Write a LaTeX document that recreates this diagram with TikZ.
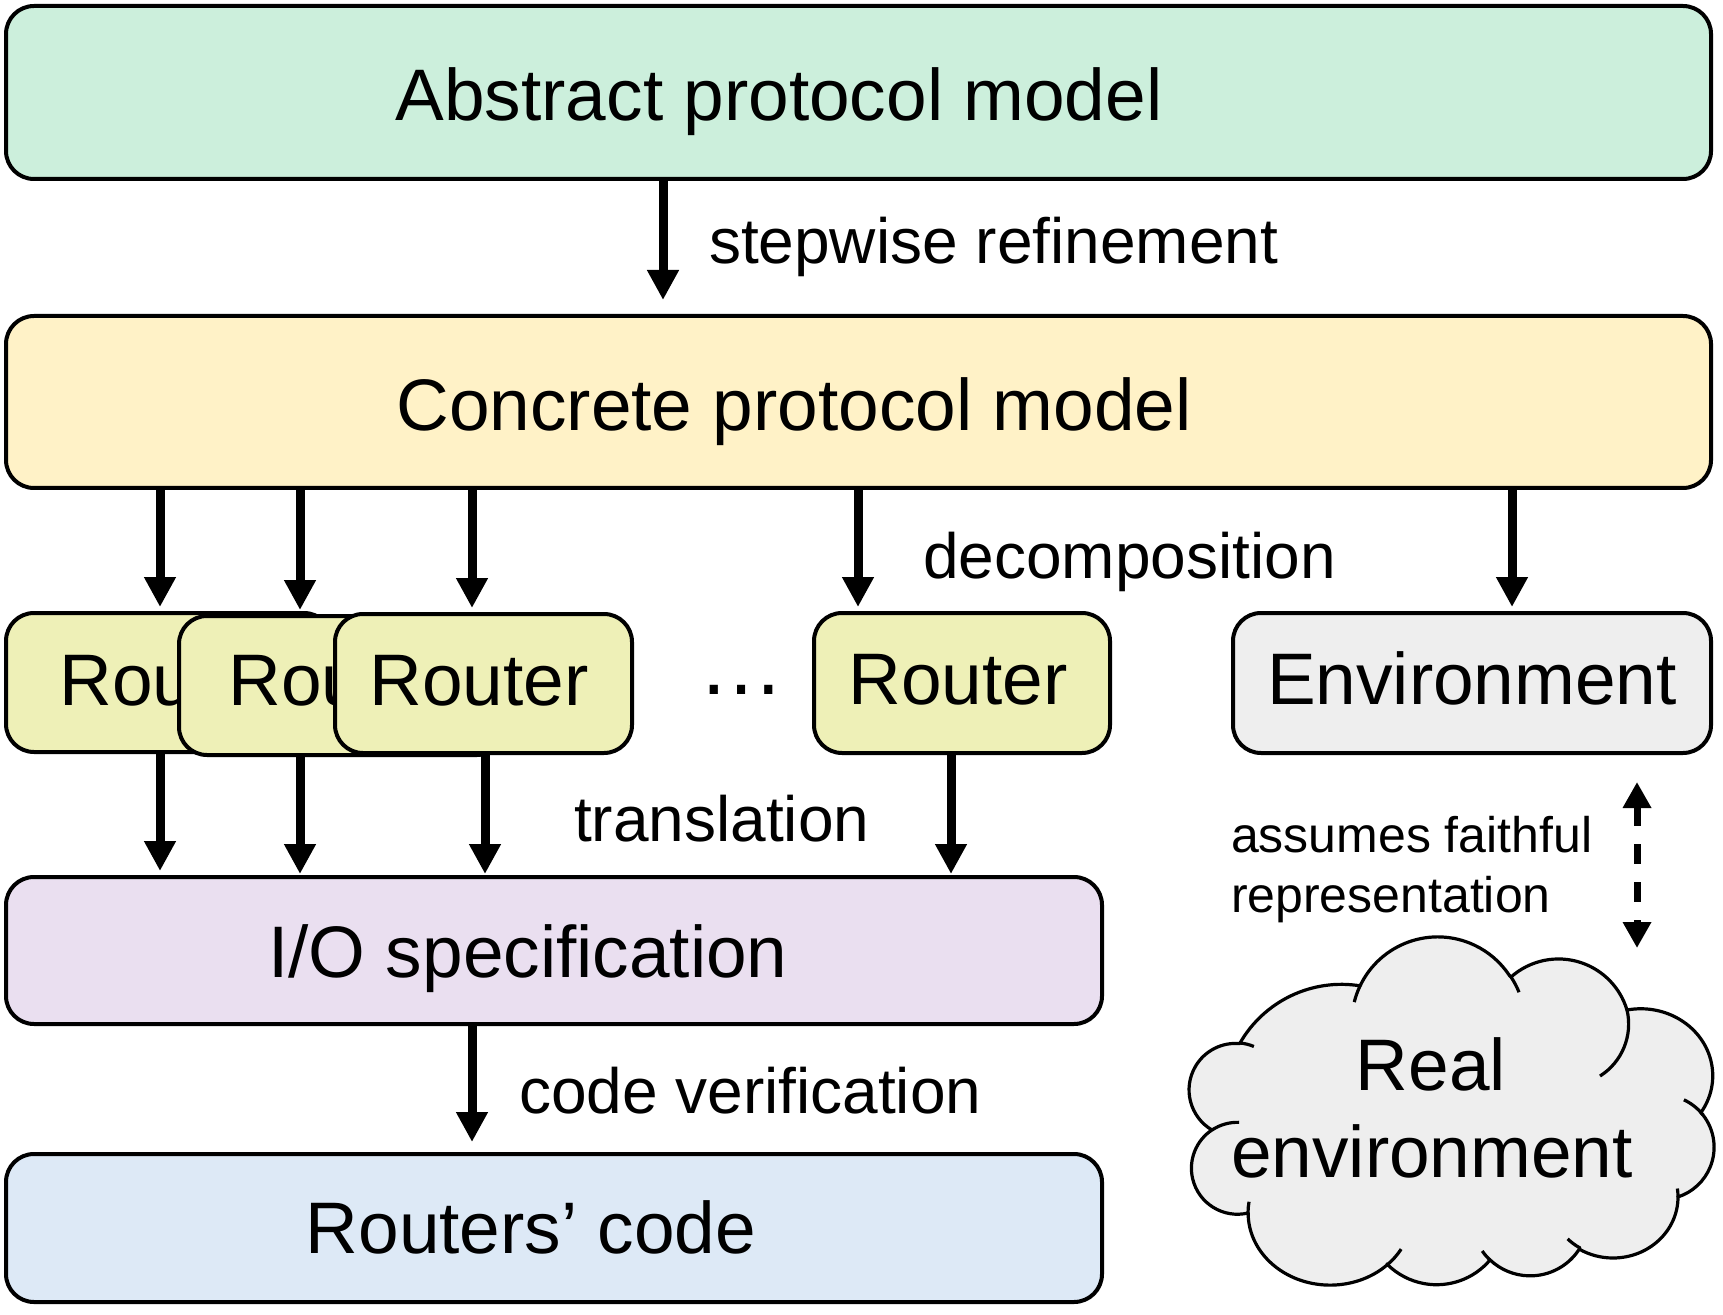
\documentclass[tikz,border=0pt]{standalone}
\usepackage{fontspec}
\setmainfont{Liberation Sans}
\usetikzlibrary{arrows.meta}
\definecolor{absc}{RGB}{204,239,220}
\definecolor{concc}{RGB}{255,242,199}
\definecolor{routc}{RGB}{238,240,183}
\definecolor{envc}{RGB}{238,238,238}
\definecolor{ioc}{RGB}{234,223,240}
\definecolor{codec}{RGB}{221,233,246}
\begin{document}
\begin{tikzpicture}[x=0.5pt,y=-0.5pt,
  box/.style={draw=black, line width=2pt, rounded corners=14pt, inner sep=0pt, outer sep=0pt},
  lbl/.style={inner sep=0pt, outer sep=0pt, anchor=base},
  lblw/.style={inner sep=0pt, outer sep=0pt, anchor=base west},
  big/.style={font=\fontsize{36.5}{44}\selectfont},
  mid/.style={font=\fontsize{32}{38}\selectfont},
  small/.style={font=\fontsize{25}{30}\selectfont},
  arr/.style={line width=4.5pt, -{Triangle[width=15pt,length=15pt]}},
  darr/.style={line width=3.5pt, dash pattern=on 10pt off 9pt, {Triangle[width=13.5pt,length=13pt]}-{Triangle[width=13.5pt,length=13pt]}},
  cloudline/.style={draw=black, line width=1.6pt, line join=round}
]
\useasboundingbox (0,0) rectangle (1723,1315);

% x positions of connectors
\coordinate (xa) at (663,0);
\coordinate (x1) at (160,0);
\coordinate (x2) at (300,0);
\coordinate (x3) at (472,0);
\coordinate (x3b) at (485,0);
\coordinate (x4) at (858,0);
\coordinate (x4b) at (951,0);
\coordinate (x5) at (1512,0);

% boxes
\node[box, fill=absc, minimum width=852.5pt, minimum height=86.5pt] (abs) at (858.5,92.5) {};
\node[lbl, big] (abstxt) at (779,121) {Abstract protocol model};

\node[box, fill=concc, minimum width=852.5pt, minimum height=86pt] (conc) at (858.5,402) {};
\node[lbl, big] (conctxt) at (794,431) {Concrete protocol model};

\node[box, fill=routc, minimum width=163pt, minimum height=69.5pt] (r1) at (169,682.5) {};
\node[lbl, big] (r1txt) at (169,705) {Router};
\node[box, fill=routc, minimum width=163pt, minimum height=69.5pt] (r2) at (342,685.5) {};
\node[lbl, big] (r2txt) at (338,705) {Router};
\node[box, fill=routc, minimum width=148.5pt, minimum height=69.5pt] (r3) at (483.5,683.5) {};
\node[lbl, big] (r3txt) at (479,705) {Router};

\node[lbl, font=\fontsize{43}{50}\selectfont] (dots) at (741,694) {…};

\node[box, fill=routc, minimum width=148pt, minimum height=70pt] (r4) at (962,683) {};
\node[lbl, big] (r4txt) at (958,704) {Router};

\node[box, fill=envc, minimum width=239pt, minimum height=70pt] (env) at (1472,683) {};
\node[lbl, big] (envtxt) at (1472,704) {Environment};

\node[box, fill=ioc, minimum width=548pt, minimum height=73.5pt] (io) at (554,950.5) {};
\node[lbl, big] (iotxt) at (528,977) {I/O specification};

\node[box, fill=codec, minimum width=548pt, minimum height=74pt] (code) at (554,1228) {};
\node[lbl, big] (codetxt) at (531,1253) {Routers’ code};

% edge labels
\node[lblw, mid] (l1) at (709,264) {stepwise refinement};
\node[lblw, mid] (l2) at (923,578) {decomposition};
\node[lblw, mid] (l3) at (574,841) {translation};
\node[lblw, mid] (l4) at (519,1113) {code verification};
\node[lblw, small] (l5a) at (1231,852) {assumes faithful};
\node[lblw, small] (l5b) at (1231,912) {representation};

% connectors
\draw[arr, shorten >=8pt] (abs.south -| xa) -- (conc.north -| xa);
\draw[arr, shorten >=3pt] (conc.south -| x1) -- (r1.north -| x1);
\draw[arr, shorten >=3pt] (conc.south -| x2) -- (r2.north -| x2);
\draw[arr, shorten >=3pt] (conc.south -| x3) -- (r3.north -| x3);
\draw[arr, shorten >=3pt] (conc.south -| x4) -- (r4.north -| x4);
\draw[arr, shorten >=3pt] (conc.south -| x5) -- (env.north -| x5);
\draw[arr, shorten >=3pt] (r1.south -| x1) -- (io.north -| x1);
\draw[arr, shorten >=1.5pt] (r2.south -| x2) -- (io.north -| x2);
\draw[arr, shorten >=1.5pt] (r3.south -| x3b) -- (io.north -| x3b);
\draw[arr, shorten >=1.5pt] (r4.south -| x4b) -- (io.north -| x4b);
\draw[arr, shorten >=6pt] (io.south -| x3) -- (code.north -| x3);

% cloud
\draw[cloudline, fill=envc]
  (1240,1043) arc[start angle=-150.1, end angle=-80.6, radius=117]
  -- (1360,986) arc[start angle=-154.6, end angle=-33.5, radius=86]
  -- (1511,977) arc[start angle=-131.6, end angle=-16.7, radius=71.5]
  -- (1627,1010) arc[start angle=-101, end angle=33.4, x radius=72, y radius=67]
  -- (1703,1115) arc[start angle=-38, end angle=72, radius=52.3]
  -- (1678,1197) arc[start angle=0, end angle=121.1, x radius=65, y radius=61]
  -- (1580,1248) arc[start angle=31.6, end angle=133.3, radius=58.5]
  -- (1490,1260) arc[start angle=40.3, end angle=135.2, radius=70]
  -- (1387,1265) arc[start angle=46.1, end angle=180, x radius=82, y radius=72]
  -- (1248,1213) arc[start angle=76.7, end angle=236.4, radius=46]
  -- (1212,1130) arc[start angle=120.4, end angle=275.3, radius=46.5]
  -- cycle;
\draw[cloudline]
  (1240,1043) arc[start angle=275.3, end angle=293, radius=46.5]
  (1212,1130) arc[start angle=236.4, end angle=272, radius=46]
  (1248,1213) arc[start angle=180, end angle=189, x radius=82, y radius=72]
  (1387,1265) arc[start angle=46.1, end angle=30, x radius=82, y radius=72]
  (1490,1260) arc[start angle=133.3, end angle=145, radius=58.5]
  (1580,1248) arc[start angle=121.1, end angle=135, x radius=65, y radius=61]
  (1678,1197) arc[start angle=0, end angle=-8, x radius=65, y radius=61]
  (1703,1115) arc[start angle=-38, end angle=-65, radius=52.3]
  (1627,1010) arc[start angle=-13.2, end angle=57.7, radius=61.5]
  (1511,977) arc[start angle=-33.5, end angle=-22, radius=86]
  (1360,986) arc[start angle=-154.6, end angle=-166, radius=86];
\node[lbl, big] (real1) at (1431,1090) {Real};
\node[lbl, big] (real2) at (1432,1177) {environment};

% dashed double arrow
\coordinate (dtop) at (1637,782);
\coordinate (dbot) at (1637,948);
\draw[darr] (dtop) -- (dbot);
\end{tikzpicture}
\end{document}
